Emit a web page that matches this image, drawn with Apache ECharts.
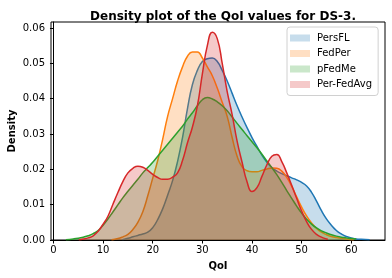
<!DOCTYPE html>
<html><head><meta charset="utf-8">
<script src="https://cdn.jsdelivr.net/npm/echarts@6/dist/echarts.min.js"></script>
<style>html,body{margin:0;padding:0;background:#fff}#c{width:392px;height:278px}</style>
</head><body><div id="c"></div>
<script>
var seriesNames = ['PersFL', 'FedPer', 'pFedMe', 'Per-FedAvg'];
var xTicks = [0, 10, 20, 30, 40, 50, 60];
var yTicks = [0, 0.01, 0.02, 0.03, 0.04, 0.05, 0.06];

var persflX = [13.9,15,16,17,18,19,20,21,22,23,24,25,26,27,28,29,30,31,32,33,34,35,36,37,38,39,40,41,42,43,44,45,46,47,48,49,50,51,52,53,54,55,56,57,58,59,60,61,62,63.7];
var persflY = [0.0001,0.0005,0.0009,0.0013,0.0017,0.0022,0.0035,0.0058,0.0088,0.0127,0.0168,0.0222,0.029,0.0372,0.044,0.048,0.0505,0.0513,0.0515,0.0505,0.048,0.045,0.0415,0.038,0.0348,0.0318,0.029,0.0265,0.024,0.022,0.0205,0.0195,0.0188,0.0182,0.0176,0.017,0.0163,0.0153,0.0135,0.011,0.0083,0.006,0.0042,0.0027,0.0017,0.001,0.0006,0.0003,0.0002,0.0001];

var fedperX = [11.7,13,14,15,16,17,18,19,20,21,22,23,24,25,26,27,28,29,30,31,32,33,34,35,36,37,38,39,40,41,42,43,44,45,46,47,48,49,50,51,52,53,54,55,56,57,58,59,60.5];
var fedperY = [0.0001,0.0004,0.0009,0.0016,0.003,0.005,0.008,0.0125,0.0175,0.0225,0.0285,0.035,0.040,0.045,0.049,0.052,0.0532,0.0532,0.0515,0.049,0.0465,0.043,0.039,0.035,0.029,0.0237,0.0207,0.0196,0.0193,0.0193,0.0197,0.0201,0.0204,0.0203,0.0195,0.0177,0.0152,0.0122,0.0093,0.0068,0.0048,0.0033,0.0022,0.0015,0.001,0.0007,0.0005,0.0003,0.0001];

var pfedmeX = [2.5,4,5,6,7,8,9,10,11,12,13,14,15,16,17,18,19,20,21,22,23,24,25,26,27,28,29,30,31,32,33,34,35,36,37,38,39,40,41,42,43,44,45,46,47,48,49,50,51,52,53,54,55,56,57,58,59,60,61];
var pfedmeY = [0.0001,0.0003,0.0005,0.0008,0.0012,0.0018,0.0027,0.0042,0.006,0.008,0.010,0.012,0.0138,0.0155,0.0172,0.019,0.0205,0.022,0.0237,0.0254,0.0271,0.0288,0.0305,0.0322,0.0342,0.036,0.038,0.0397,0.0403,0.0399,0.0391,0.038,0.0366,0.0348,0.033,0.0313,0.0295,0.0278,0.0261,0.0243,0.0224,0.0205,0.0185,0.0163,0.014,0.0118,0.0096,0.0076,0.0059,0.0045,0.0034,0.0026,0.002,0.0015,0.0011,0.0008,0.0006,0.0004,0.0003];

var perfedavgX = [5.1,6,7,8,9,10,11,12,13,14,15,16,17,18,19,20,21,22,23,24,25,26,27,28,29,30,31,32,33,34,35,36,37,38,39,40,41,42,43,44,45,46,47,48,49,50,51,52,53,54,55,55.3];
var perfedavgY = [0.0001,0.0003,0.0006,0.0012,0.0025,0.0045,0.0068,0.0102,0.0135,0.0166,0.019,0.0203,0.0209,0.0206,0.0197,0.0186,0.0177,0.0172,0.0172,0.0178,0.019,0.0225,0.0275,0.032,0.038,0.047,0.055,0.0588,0.057,0.050,0.042,0.0355,0.028,0.022,0.0165,0.0137,0.0148,0.018,0.0213,0.0237,0.0242,0.0222,0.019,0.0155,0.0118,0.0082,0.0052,0.003,0.0016,0.0008,0.0003,0.0002];

var colors = ['#1f77b4', '#ff7f0e', '#2ca02c', '#d62728'];
var fills = ['rgba(31,119,180,0.25)', 'rgba(255,127,14,0.25)', 'rgba(44,160,44,0.25)', 'rgba(214,39,40,0.25)'];
var xsList = [persflX, fedperX, pfedmeX, perfedavgX];
var ysList = [persflY, fedperY, pfedmeY, perfedavgY];

function pairs(xs, ys) { return xs.map(function (x, i) { return [x, ys[i]]; }); }

var series = seriesNames.map(function (n, i) {
  return {
    name: n, type: 'line', data: pairs(xsList[i], ysList[i]),
    showSymbol: false, smooth: 0.5,
    lineStyle: { color: colors[i], width: 1.5 },
    itemStyle: { color: colors[i] },
    areaStyle: { color: fills[i], opacity: 1 },
    z: 2 + i
  };
});

var chart = echarts.init(document.getElementById('c'), null, { renderer: 'canvas' });
chart.setOption({
  animation: false,
  backgroundColor: '#fff',
  title: {
    text: 'Density plot of the QoI values for DS-3.',
    left: 218, top: 6, textAlign: 'center',
    textStyle: { fontFamily: 'DejaVu Sans', fontSize: 12, fontWeight: 'bold', color: '#000' }
  },
  legend: {
    orient: 'vertical', left: 287, top: 27,
    icon: 'rect', itemWidth: 20, itemHeight: 7, itemGap: 3.5,
    padding: [5, 6, 5, 3],
    backgroundColor: '#fff', borderColor: '#d0d0d0', borderWidth: 1, borderRadius: 3,
    itemStyle: { borderWidth: 0 },
    textStyle: { fontFamily: 'DejaVu Sans', fontSize: 10, color: '#000', lineHeight: 12, padding: [0, 0, 0, 2] },
    data: seriesNames.map(function (n, i) { return { name: n, itemStyle: { color: fills[i], borderWidth: 0 } }; })
  },
  grid: { left: 51, right: 7, top: 22, bottom: 38, show: true, borderColor: '#000', borderWidth: 1,
    backgroundColor: 'transparent', containLabel: false, outerBoundsMode: 'none' },
  xAxis: {
    type: 'value', min: -0.5, max: 66.8,
    name: 'QoI', nameLocation: 'middle', nameGap: 21, nameMoveOverlap: false,
    nameTextStyle: { fontFamily: 'DejaVu Sans', fontSize: 10, fontWeight: 'bold', color: '#000' },
    axisLine: { show: true, onZero: false, lineStyle: { color: '#000', width: 1 } },
    axisTick: { show: true, length: 3.5, customValues: xTicks, lineStyle: { color: '#000' } },
    axisLabel: { customValues: xTicks, fontFamily: 'DejaVu Sans', fontSize: 10, color: '#000', margin: 5 },
    splitLine: { show: false }
  },
  yAxis: {
    type: 'value', min: 0, max: 0.0617,
    name: 'Density', nameLocation: 'middle', nameGap: 34, nameRotate: 90, nameMoveOverlap: false,
    nameTextStyle: { fontFamily: 'DejaVu Sans', fontSize: 10, fontWeight: 'bold', color: '#000' },
    axisLine: { show: true, lineStyle: { color: '#000', width: 1 } },
    axisTick: { show: true, length: 3.5, customValues: yTicks, lineStyle: { color: '#000' } },
    axisLabel: { customValues: yTicks, fontFamily: 'DejaVu Sans', fontSize: 10, color: '#000', margin: 6,
      formatter: function (v) { return v.toFixed(2); } },
    splitLine: { show: false }
  },
  series: series
});
</script></body></html>
